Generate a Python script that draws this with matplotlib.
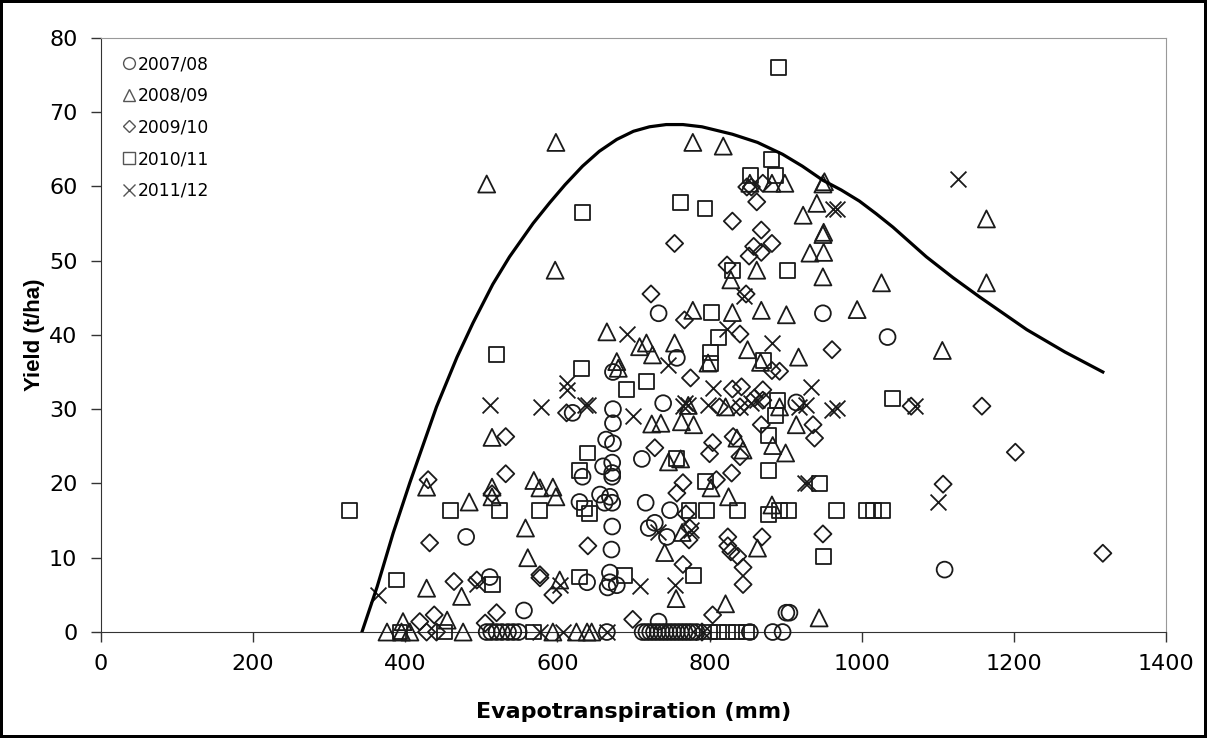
import matplotlib
matplotlib.use('Agg')
import matplotlib.pyplot as plt
from matplotlib.lines import Line2D

plt.rcParams['font.family'] = ['DejaVu Sans']

# 2007/08 (circles)
c_x = [733, 949, 1034, 757, 673, 673, 673, 739, 914, 620, 664, 673, 711, 633, 660, 672, 672, 672,
       656, 662, 669, 672, 629, 716, 748, 672, 720, 728, 744, 671, 480, 511, 639, 669, 669, 678, 666,
       556, 733, 905, 901, 1109,
       507, 513, 520, 527, 535, 542, 549, 665, 712, 717, 722, 727, 732, 737, 742, 747, 752, 757, 762,
       767, 772, 777, 783, 853, 883, 896]
c_y = [42.9, 42.9, 39.7, 36.9, 35.0, 30.0, 28.1, 30.8, 30.9, 29.5, 25.9, 25.4, 23.3, 20.9, 22.3, 22.8, 21.4, 20.9,
       18.5, 17.4, 18.2, 17.4, 17.5, 17.4, 16.4, 14.2, 14.0, 14.7, 12.8, 11.1, 12.8, 7.4, 6.7, 8.0, 6.7, 6.3, 6.0,
       2.9, 1.4, 2.6, 2.6, 8.4,
       0, 0, 0, 0, 0, 0, 0, 0, 0, 0, 0, 0, 0, 0, 0, 0, 0, 0, 0,
       0, 0, 0, 0, 0, 0, 0]

# 2008/09 (triangles)
t_x = [507, 598, 778, 818, 853, 882, 899, 951, 949, 941, 923, 950, 949, 932, 950, 597, 862, 949, 828, 1026,
       1164, 1164, 778, 830, 868, 901, 994, 665, 708, 717, 725, 754, 678, 680, 798, 850, 917, 867, 1106,
       724, 736, 763, 779, 772, 821, 892, 914, 836, 844, 883, 900, 746, 762, 802, 825, 882, 764, 741, 863,
       756, 821, 944, 514, 428, 484, 514, 514, 569, 577, 594, 598, 558, 561, 428, 474, 603, 397, 455,
       376, 395, 406, 476, 594, 625, 639, 645]
t_y = [60.3, 65.9, 65.9, 65.4, 60.4, 60.4, 60.4, 60.6, 60.3, 57.7, 56.1, 53.8, 53.5, 51.0, 51.1, 48.7, 48.7, 47.8, 47.4, 47.0,
       55.6, 47.0, 43.3, 43.0, 43.3, 42.7, 43.4, 40.4, 38.4, 38.9, 37.3, 38.9, 36.4, 35.5, 36.2, 38.0, 37.0, 36.3, 37.9,
       28.0, 28.1, 28.3, 27.9, 30.5, 30.3, 30.3, 27.9, 26.1, 24.5, 25.1, 24.1, 22.9, 23.3, 19.4, 18.2, 17.1, 13.4, 10.7, 11.3,
       4.5, 3.8, 1.9, 26.2, 19.5, 17.5, 19.5, 18.2, 20.4, 19.4, 19.5, 18.2, 14.0, 10.0, 5.9, 4.8, 7.0, 1.4, 1.6,
       0, 0, 0, 0, 0, 0, 0, 0]

# 2009/10 (diamonds)
d_x = [849, 855, 870, 862, 830, 868, 858, 882, 868, 852, 823, 754, 723, 767, 848, 840, 961, 882, 892, 775,
       830, 842, 870, 859, 870, 813, 840, 936, 938, 868, 728, 804, 800, 831, 840, 829, 809, 765, 757, 769,
       774, 773, 824, 824, 828, 837, 844, 844, 869, 949, 765, 699, 804, 1065, 1158, 1202, 1107, 1317,
       612, 532, 430, 532, 514, 432, 640, 464, 494, 577, 577, 594, 520, 438, 419, 505,
       428, 441, 790]
d_y = [59.9, 59.9, 60.4, 57.9, 55.3, 54.1, 51.9, 52.3, 51.1, 50.6, 49.4, 52.3, 45.5, 42.0, 45.5, 40.1, 38.0, 35.2, 35.1, 34.2,
       32.7, 33.0, 32.6, 31.5, 31.2, 30.3, 30.3, 27.9, 26.1, 27.9, 24.8, 25.5, 24.0, 26.3, 23.6, 21.4, 20.5, 20.1, 18.7, 15.9,
       14.0, 12.4, 12.8, 11.6, 10.8, 10.2, 8.7, 6.4, 12.8, 13.2, 9.1, 1.7, 2.3, 30.4, 30.4, 24.2, 19.9, 10.6,
       29.5, 26.3, 20.5, 21.3, 18.6, 12.0, 11.6, 6.8, 7.0, 7.7, 7.3, 5.0, 2.6, 2.3, 1.4, 1.2,
       0, 0, 0]

# 2010/11 (squares)
s_x = [891, 882, 854, 887, 633, 762, 794, 830, 903, 803, 812, 801, 801, 871, 691, 717, 889, 887, 877, 877,
       945, 795, 756, 1041, 520, 632, 640, 629, 327, 459, 524, 576, 636, 642, 773, 796, 837, 877, 892, 904,
       967, 1006, 1016, 1027, 950, 779, 688, 388, 515, 629,
       393, 452, 568, 800, 812, 824, 836, 848]
s_y = [76.0, 63.6, 61.4, 61.4, 56.5, 57.8, 57.0, 48.7, 48.6, 43.0, 39.7, 37.6, 36.2, 36.6, 32.6, 33.7, 31.2, 29.2, 26.5, 21.8,
       20.0, 20.3, 23.3, 31.4, 37.3, 35.5, 24.1, 21.8, 16.3, 16.3, 16.3, 16.3, 16.6, 16.0, 16.3, 16.3, 16.3, 15.8, 16.3, 16.3,
       16.3, 16.3, 16.3, 16.3, 10.2, 7.6, 7.6, 7.0, 6.4, 7.4,
       0, 0, 0, 0, 0, 0, 0, 0]

# 2011/12 (crosses)
x_x = [1127, 962, 967, 845, 882, 692, 745, 823, 934, 967, 699, 765, 771, 768, 798, 804, 840, 855, 862, 918,
       927, 961, 926, 930, 732, 776, 708, 754, 612, 612, 511, 578, 636, 640, 364, 494, 603, 1100, 1070,
       577, 607, 665, 791]
x_y = [61.0, 57.0, 57.0, 45.2, 38.9, 40.1, 36.0, 40.8, 33.0, 30.2, 29.1, 30.4, 30.6, 30.8, 30.6, 32.8, 30.3, 30.8, 31.2, 30.3,
       30.6, 29.9, 20.0, 20.0, 13.5, 13.7, 6.2, 6.3, 33.5, 32.6, 30.5, 30.3, 30.6, 30.6, 5.0, 6.4, 6.3, 17.5, 30.4,
       0, 0, 0, 0]

# upper boundary curve
curve_x = [343, 363, 384, 406, 441, 468, 489, 515, 537, 568, 590, 610, 633, 655, 678, 700, 721, 743, 765, 790,
           830, 863, 896, 922, 949, 973, 997, 1019, 1041, 1063, 1085, 1120, 1155, 1186, 1217, 1267, 1317]
curve_y = [0, 6.1, 13.3, 20.1, 30.3, 37.0, 41.6, 46.8, 50.5, 55.0, 57.8, 60.2, 62.7, 64.7, 66.3, 67.4, 68.0, 68.3, 68.3, 68.0,
           67.0, 65.9, 64.3, 62.7, 60.8, 59.5, 58.0, 56.3, 54.5, 52.5, 50.5, 47.7, 45.1, 42.9, 40.7, 37.7, 35.0]

fig = plt.figure(figsize=(12.07, 7.38), dpi=100)
fig.patch.set_edgecolor('black')
fig.patch.set_linewidth(3)
ax = fig.add_axes([0.0837, 0.1436, 0.8823, 0.8054])

ec = '#1a1a1a'
kw = dict(facecolors='none', edgecolors=ec, linewidths=1.3, clip_on=False, zorder=3)
ax.scatter(c_x, c_y, marker='o', s=130, **kw)
ax.scatter(t_x, t_y, marker='^', s=150, **kw)
ax.scatter(d_x, d_y, marker='D', s=76, **kw)
ax.scatter(s_x, s_y, marker='s', s=115, **kw)
ax.scatter(x_x, x_y, marker='x', s=130, c=ec, linewidths=1.3, clip_on=False, zorder=3)
ax.plot(curve_x, curve_y, color='black', lw=2.3, zorder=4, solid_joinstyle='round')

ax.set_xlim(0, 1400)
ax.set_ylim(0, 80)
ax.set_xticks(range(0, 1401, 200))
ax.set_yticks(range(0, 81, 10))
ax.tick_params(direction='out', length=7, width=1, colors='#333', labelsize=16, labelcolor='black')
ax.tick_params(axis='y', pad=10)
ax.tick_params(axis='x', pad=9)
for sp in ['top', 'right']:
    ax.spines[sp].set_color('#999')
for sp in ['left', 'bottom']:
    ax.spines[sp].set_color('#333')
ax.set_xlabel('Evapotranspiration (mm)', fontsize=16, fontweight='bold', labelpad=20)
ax.set_ylabel('Yield (t/ha)', fontsize=16, fontweight='bold', labelpad=3,
              family='Liberation Sans')

lc = '#555'
handles = [Line2D([], [], ls='none', marker='o', mfc='none', mec=lc, ms=8.5, mew=1),
           Line2D([], [], ls='none', marker='^', mfc='none', mec=lc, ms=9, mew=1),
           Line2D([], [], ls='none', marker='D', mfc='none', mec=lc, ms=6, mew=1),
           Line2D([], [], ls='none', marker='s', mfc='none', mec=lc, ms=8, mew=1),
           Line2D([], [], ls='none', marker='x', color=lc, ms=9, mew=1)]
labels = ['2007/08', '2008/09', '2009/10', '2010/11', '2011/12']
ax.legend(handles, labels, loc='upper left', bbox_to_anchor=(0.012, 0.985), frameon=False,
          fontsize=12.3, handlelength=0.8, handletextpad=0.1, labelspacing=0.8, borderpad=0)

fig.savefig('out.png', dpi=100)
